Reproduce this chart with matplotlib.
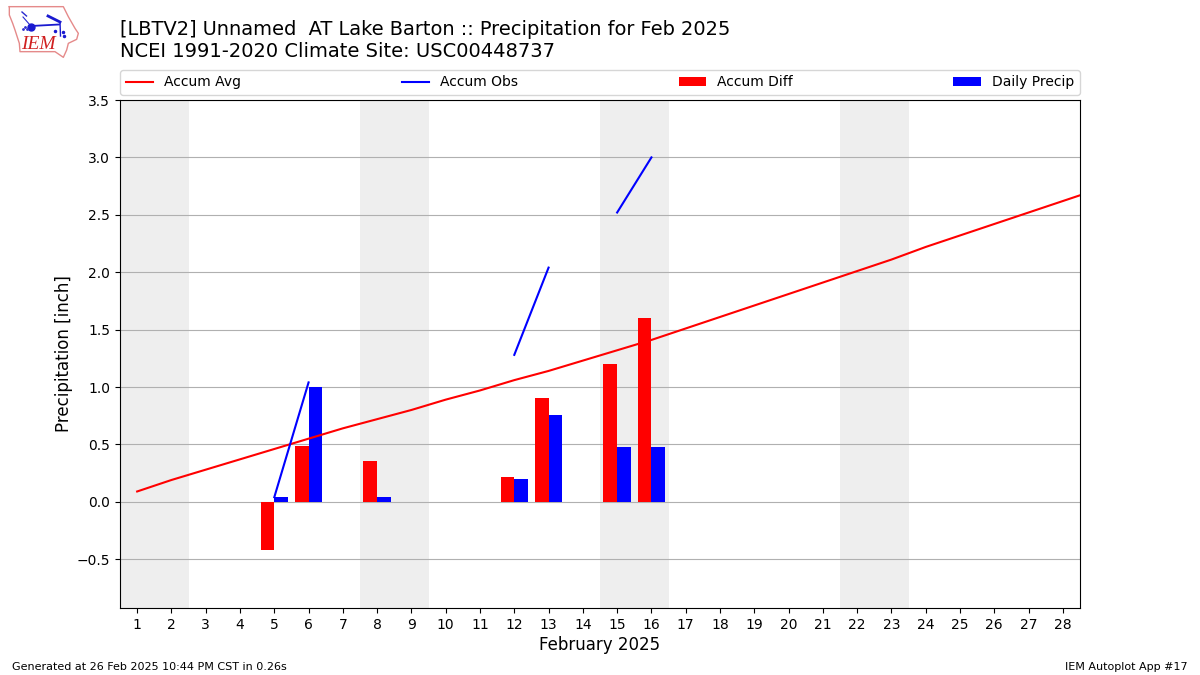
#!/usr/bin/env python3
"""
IEM autoplot 17 style chart: daily precip vs climatology for Feb 2025.
"""
import numpy as np
import matplotlib
matplotlib.use("Agg")
import matplotlib.pyplot as plt

nan = np.nan

days = list(range(1, 29))
avg_days = list(range(1, 30))
accum_avg = [0.09, 0.19, 0.28, 0.37, 0.46, 0.55, 0.64, 0.72, 0.80, 0.89,
             0.97, 1.06, 1.14, 1.23, 1.32, 1.41, 1.51, 1.61, 1.71, 1.81,
             1.91, 2.01, 2.11, 2.22, 2.32, 2.42, 2.52, 2.62, 2.72]
accum_obs = [nan, nan, nan, nan, 0.04, 1.04, nan, 1.08, nan, nan,
             nan, 1.28, 2.04, nan, 2.52, 3.00, nan, nan, nan, nan,
             nan, nan, nan, nan, nan, nan, nan, nan]
accum_diff = [0, 0, 0, 0, -0.42, 0.49, 0, 0.355, 0, 0,
              0, 0.22, 0.905, 0, 1.20, 1.60, 0, 0, 0, 0,
              0, 0, 0, 0, 0, 0, 0, 0]
daily_precip = [0, 0, 0, 0, 0.04, 1.00, 0, 0.04, 0, 0,
                0, 0.20, 0.76, 0, 0.48, 0.48, 0, 0, 0, 0,
                0, 0, 0, 0, 0, 0, 0, 0]
weekends = [(0.5, 2.5), (7.5, 9.5), (14.5, 16.5), (21.5, 23.5)]
yticks = [-0.5, 0.0, 0.5, 1.0, 1.5, 2.0, 2.5, 3.0, 3.5]

fig = plt.figure(figsize=(12, 6.75), dpi=100)
ax = fig.add_axes([120 / 1200, 1 - 608 / 675, 960 / 1200, 508 / 675])

for lo, hi in weekends:
    ax.axvspan(lo, hi, color="#eeeeee", lw=0, zorder=0)
ax.plot(avg_days, accum_avg, color="r", lw=1.5, label="Accum Avg", zorder=3)
ax.plot(days, accum_obs, color="b", lw=1.5, label="Accum Obs", zorder=3)
ax.bar(np.array(days) - 0.2, accum_diff, width=0.4, color="r", label="Accum Diff", zorder=2)
ax.bar(np.array(days) + 0.2, daily_precip, width=0.4, color="b", label="Daily Precip", zorder=2)

ax.set_xlim(0.5, 28.5)
ax.set_ylim(-0.925, 3.5)
ax.set_xticks(days)
ax.set_yticks(yticks)
ax.grid(True, axis="y", color="#b0b0b0", lw=0.8)
ax.set_axisbelow(True)
ax.set_xlabel("February 2025", fontsize=12, labelpad=3)
ax.set_ylabel("Precipitation [inch]", fontsize=12, labelpad=3)
ax.legend(loc="lower left", bbox_to_anchor=(0, 1.0098, 1, 0.102), ncol=4,
          mode="expand", borderaxespad=0, fontsize=10)

fig.text(120 / 1200, 1 - 29.5 / 675, "[LBTV2] Unnamed  AT Lake Barton :: Precipitation for Feb 2025",
         fontsize=13.98, va="center")
fig.text(120 / 1200, 1 - 51.5 / 675, "NCEI 1991-2020 Climate Site: USC00448737",
         fontsize=14, va="center")
fig.text(12 / 1200, 1 - 667 / 675, "Generated at 26 Feb 2025 10:44 PM CST in 0.26s",
         fontsize=8, va="center")
fig.text(1188 / 1200, 1 - 667 / 675, "IEM Autoplot App #17",
         fontsize=8, va="center", ha="right")

# ── logo, drawn in pixel coords ────────────────────────────────────────────────
logo = fig.add_axes([0, 0, 1, 1], zorder=5)
logo.set_xlim(0, 1200)
logo.set_ylim(675, 0)
logo.axis("off")
logo.patch.set_alpha(0)
outline = np.array([(28, 20), (190, 20), (205, 50), (225, 85), (235, 100), (230, 118),
                    (205, 130), (200, 150), (190, 172), (165, 155), (60, 155),
                    (58, 130), (45, 90), (38, 70), (28, 45), (28, 20)]) / 3
logo.plot(outline[:, 0], outline[:, 1], color="#e58a8a", lw=1)
logo.plot([31, 59], [26, 24.5], color="#1a1ad0", lw=1.3)
logo.plot([60, 60.5], [22, 36], color="#1a1ad0", lw=1)
logo.plot([22, 26.5], [12, 16], color="#2a2ad0", lw=1)
logo.plot([23, 30], [17, 25], color="#2a2ad0", lw=0.8)
logo.plot([48, 54, 60], [16, 19, 22], color="#1a1ad0", lw=2)
logo.plot([31], [26.5], "o", color="#1a1ad0", ms=5)
logo.plot([23, 25, 27], [29, 27, 29], ".", color="#3030d0", ms=2)
logo.plot([55, 63, 64], [31, 32, 36], ".", color="#1a1ad0", ms=3)
logo.text(38, 44.5, "IEM", color="#d02020", fontsize=14, family="Liberation Serif",
          style="italic", ha="center", va="center")

fig.savefig("out.png", dpi=100)
